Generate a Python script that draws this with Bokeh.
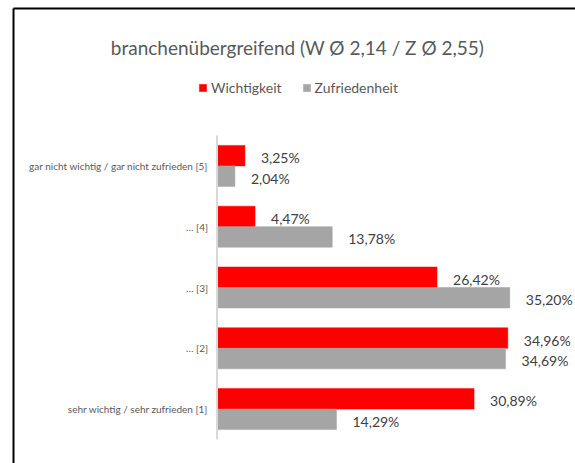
from bokeh.plotting import figure
from bokeh.models import Range1d, Legend, LegendItem
from bokeh.core.properties import value
from bokeh.embed import file_html
from bokeh.resources import INLINE

# ---- data ----
title_text = "branchenübergreifend (W Ø 2,14 / Z Ø 2,55)"
categories = [
    "gar nicht wichtig / gar nicht zufrieden [5]",
    "… [4]",
    "… [3]",
    "… [2]",
    "sehr wichtig / sehr zufrieden [1]",
]
series_names = ["Wichtigkeit", "Zufriedenheit"]
wichtigkeit = [3.25, 4.47, 26.42, 34.96, 30.89]
zufriedenheit = [2.04, 13.78, 35.20, 34.69, 14.29]

RED = "#FF0000"
GRAY = "#A5A5A5"
FONT = "Lato"

# ---- layout (pixels) ----
W, H = 575, 463
X0_PX = 217.5        # canvas x of value 0
PX_PER = 8.29        # pixels per percent
ROW = 60.8           # pixels per category
TOP_CENTER = 165.4   # canvas y of first category center
BAR_H = 0.337        # in category units

n = len(categories)
pos = [n - 1 - i for i in range(n)]
y_end = (n - 1) + TOP_CENTER / ROW
y_start = y_end - H / ROW
x_start = -X0_PX / PX_PER
x_end = (W - X0_PX) / PX_PER


def px_x(cx):
    return x_start + cx / PX_PER


def px_y(cy):
    return y_end - cy / ROW


p = figure(width=W, height=H, output_backend="svg", toolbar_location=None,
           x_range=Range1d(x_start, x_end), y_range=Range1d(y_start, y_end),
           x_axis_location=None, y_axis_location=None, min_border=0)
p.grid.visible = False
p.outline_line_color = None
p.background_fill_color = "white"
p.border_fill_color = "white"

y_red = [v + BAR_H / 2 for v in pos]
y_gray = [v - BAR_H / 2 for v in pos]

r1 = p.hbar(y=y_red, left=0, right=wichtigkeit, height=BAR_H,
            fill_color=RED, line_color=RED, line_width=0.5)
r2 = p.hbar(y=y_gray, left=0, right=zufriedenheit, height=BAR_H,
            fill_color=GRAY, line_color=GRAY, line_width=0.5)


def fmt(v):
    return f"{v:.2f}".replace(".", ",") + "%"


p.text(x=wichtigkeit, y=y_red, text=[fmt(v) for v in wichtigkeit],
       x_offset=16, y_offset=2, text_baseline="middle", text_align="left",
       text_font=value(FONT), text_font_size="14px", text_color="#404040")
p.text(x=zufriedenheit, y=y_gray, text=[fmt(v) for v in zufriedenheit],
       x_offset=16, y_offset=2, text_baseline="middle", text_align="left",
       text_font=value(FONT), text_font_size="14px", text_color="#404040")

# category axis line and labels
p.segment(x0=[-1 / PX_PER], x1=[-1 / PX_PER], y0=[pos[-1] - 0.5], y1=[pos[0] + 0.5],
          line_color="#D9D9D9", line_width=2)
p.text(x=[0] * n, y=pos, text=categories, x_offset=-10,
       text_align="right", text_baseline="middle",
       text_font=value(FONT), text_font_size="10px", text_color="#595959")

# title
p.text(x=[px_x(297)], y=[px_y(47)], text=[title_text], text_align="center",
       text_baseline="alphabetic", text_font=value(FONT), text_font_size="19px",
       text_color="#595959")

# border (left and top of chart area)
p.segment(x0=[px_x(13)], x1=[px_x(13)], y0=[y_start], y1=[px_y(8)],
          line_color="black", line_width=2)
p.segment(x0=[px_x(13)], x1=[x_end], y0=[px_y(8)], y1=[px_y(8)],
          line_color="black", line_width=2)

legend = Legend(items=[LegendItem(label=series_names[0], renderers=[r1]),
                       LegendItem(label=series_names[1], renderers=[r2])],
                orientation="horizontal", location=(198, 367),
                padding=0, margin=0, spacing=20, label_standoff=4,
                glyph_width=9, glyph_height=9,
                label_text_font=FONT, label_text_font_size="14px",
                label_text_color="#595959",
                border_line_color=None, background_fill_alpha=0)
p.add_layout(legend, "center")

open("out.html", "w").write(file_html(p, INLINE))
